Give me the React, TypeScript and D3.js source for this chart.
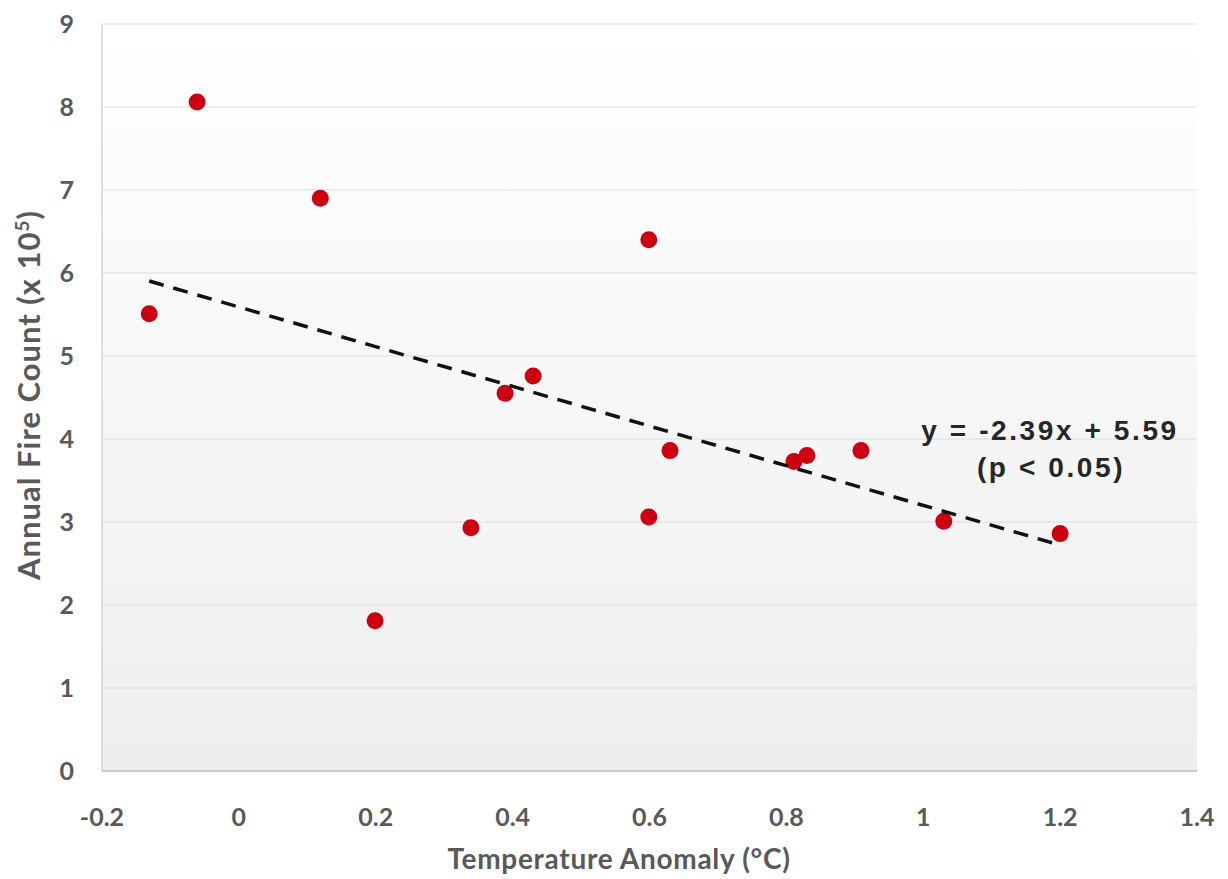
import React from "react";
import * as d3 from "d3";

const tempAnomaly = [-0.131, -0.061, 0.119, 0.199, 0.339, 0.389, 0.43, 0.599, 0.599, 0.63, 0.811, 0.83, 0.909, 1.03, 1.2];
const fireCount = [5.51, 8.06, 6.9, 1.81, 2.93, 4.55, 4.76, 6.4, 3.06, 3.86, 3.73, 3.8, 3.86, 3.01, 2.86];
const xTicks = [-0.2, 0, 0.2, 0.4, 0.6, 0.8, 1, 1.2, 1.4];
const yTicks = [0, 1, 2, 3, 4, 5, 6, 7, 8, 9];
const slope = -2.39;
const intercept = 5.59;
const trendRange = [-0.131, 1.2];

const W = 1228, H = 879;
const M = { left: 102, right: 1197, top: 24, bottom: 771 };

export default function App() {
  const x = d3.scaleLinear().domain([-0.2, 1.4]).range([M.left, M.right]);
  const y = d3.scaleLinear().domain([0, 9]).range([M.bottom, M.top]);
  const line = d3.line<number>().x((d) => x(d)).y((d) => y(slope * d + intercept));
  const tickFont = "Lato, 'Open Sans', sans-serif";
  const eqFont = "'Liberation Sans', Arial, sans-serif";
  return (
    <svg width={W} height={H} style={{ position: "absolute", left: 0, top: 0, background: "#fff" }}>
      <defs>
        <linearGradient id="bg" x1="0" y1="0" x2="0" y2="1">
          <stop offset="0" stopColor="#ffffff" />
          <stop offset="1" stopColor="#eeeeee" />
        </linearGradient>
      </defs>
      <rect x={M.left} y={M.top} width={M.right - M.left} height={M.bottom - M.top} fill="url(#bg)" />
      {yTicks.map((t) => (
        <line key={"g" + t} x1={M.left} x2={M.right} y1={y(t)} y2={y(t)} stroke="#dddddd" strokeWidth={1.2} />
      ))}
      <line x1={M.left} x2={M.left} y1={M.top} y2={M.bottom} stroke="#d4d4d4" strokeWidth={1.5} />
      <line x1={M.left} x2={M.right} y1={M.bottom} y2={M.bottom} stroke="#bfbfbf" strokeWidth={1.5} />
      {yTicks.map((t) => (
        <text key={"yt" + t} x={74} y={y(t)} dy="0.35em" textAnchor="end" fontFamily={tickFont} fontWeight={700} fontSize={25} fill="#595959">
          {String(t)}
        </text>
      ))}
      {xTicks.map((t) => (
        <text key={"xt" + t} x={x(t)} y={817} dy="0.35em" textAnchor="middle" fontFamily={tickFont} fontWeight={700} fontSize={25} fill="#595959">
          {String(+t.toFixed(1))}
        </text>
      ))}
      <text x={619} y={859} dy="0.35em" textAnchor="middle" fontFamily={tickFont} fontWeight={700} fontSize={28} letterSpacing={0.7} fill="#595959">
        Temperature Anomaly (°C)
      </text>
      <text transform={`translate(29,395) rotate(-90)`} dy="0.35em" textAnchor="middle" fontFamily={tickFont} fontWeight={700} fontSize={31} letterSpacing={1} fill="#595959">
        Annual Fire Count (x 10<tspan dy="-11" fontSize={19}>5</tspan><tspan dy="11">)</tspan>
      </text>
      {tempAnomaly.map((v, i) => (
        <circle key={"p" + i} cx={x(v)} cy={y(fireCount[i])} r={8.5} fill="#cc0010" />
      ))}
      <path d={line(trendRange) || ""} fill="none" stroke="#111" strokeWidth={3.5} strokeDasharray="15 10" />
      <text x={1050} y={430} dy="0.35em" textAnchor="middle" fontFamily={eqFont} fontWeight={700} fontSize={28} letterSpacing={2.6} fill="#262626">
        y = -2.39x + 5.59
      </text>
      <text x={1051} y={467} dy="0.35em" textAnchor="middle" fontFamily={eqFont} fontWeight={700} fontSize={28} letterSpacing={2.6} fill="#262626">
        (p &lt; 0.05)
      </text>
    </svg>
  );
}
